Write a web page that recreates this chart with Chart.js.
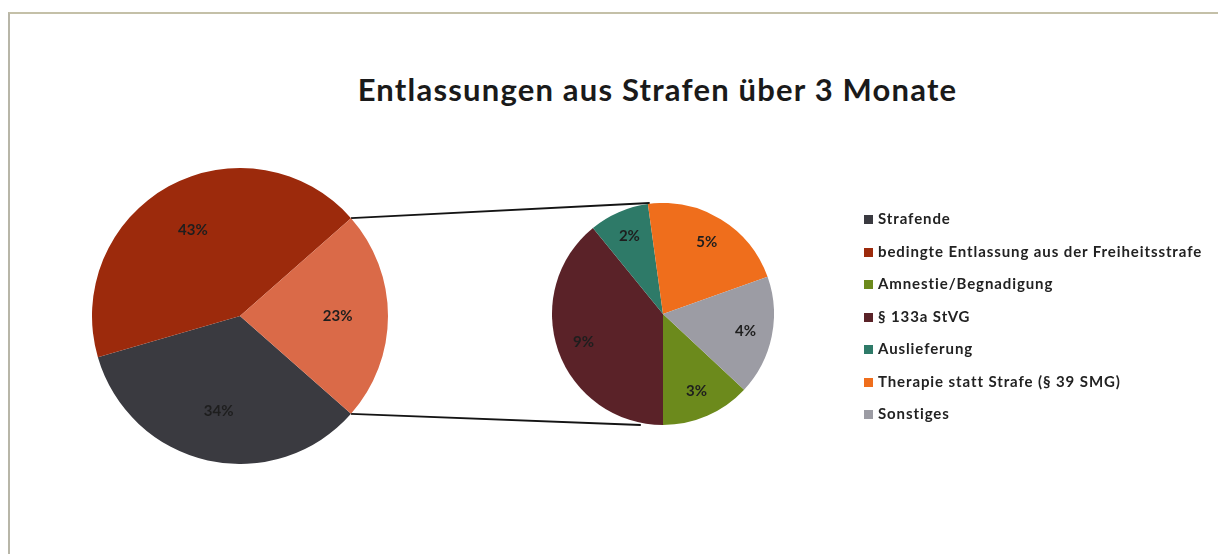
<!DOCTYPE html>
<html lang="de">
<head>
<meta charset="UTF-8">
<title>Entlassungen aus Strafen über 3 Monate</title>
<style>
  body { margin: 0; background: #fff; font-family: Lato, "Open Sans", sans-serif; }
  #frame {
    position: absolute; left: 8px; top: 12px; width: 1212px; height: 545px;
    border-top: 2px solid #c4c0a8; border-left: 2px solid #b8b6a8;
  }
  #title {
    position: absolute; left: 0; width: 1315px; top: 74px; text-align: center;
    font-weight: bold; font-size: 31px; line-height: 31px; letter-spacing: 1.2px; color: #1a1a1a;
  }
  #lines { position: absolute; left: 0; top: 0; }
  .pie { position: absolute; }
  #mainWrap { left: 92px; top: 168px; width: 296px; height: 296px; }
  #subWrap { left: 552px; top: 203px; width: 222px; height: 222px; }
  #legend { position: absolute; left: 864px; top: 208px; font-size: 15px; font-weight: bold; letter-spacing: 0.9px; color: #222; }
  #legend div { height: 32.5px; line-height: 20px; white-space: nowrap; }
  #legend span { display: inline-block; width: 9px; height: 9px; margin-right: 5px; vertical-align: 0px; }
</style>
</head>
<body>
<div id="frame"></div>
<div id="title">Entlassungen aus Strafen über 3 Monate</div>
<canvas id="lines" width="1218" height="554"></canvas>
<div class="pie" id="mainWrap"><canvas id="mainPie"></canvas></div>
<div class="pie" id="subWrap"><canvas id="subPie"></canvas></div>
<div id="legend"></div>

<script src="https://cdn.jsdelivr.net/npm/chart.js"></script>
<script>
// Hauptkreis
const mainLabels = ['Strafende', 'bedingte Entlassung aus der Freiheitsstrafe'];
const mainValues = [34, 43];
const mainColors = ['#3a3a40', '#9c2a0c'];
const otherColor = '#da6a48';

// Zweiter Kreis (Rest)
const subLabels = ['Amnestie/Begnadigung', '§ 133a StVG', 'Auslieferung', 'Therapie statt Strafe (§ 39 SMG)', 'Sonstiges'];
const subValues = [3, 9, 2, 5, 4];
const subColors = ['#6c8a1c', '#5a2228', '#2e7a68', '#ef6e1c', '#9c9ca4'];

const subSum = subValues.reduce((a, b) => a + b, 0);
const total = mainValues.reduce((a, b) => a + b, 0) + subSum;

// Prozent-Beschriftung in den Segmenten
function pctLabels(radiusFactor) {
  return {
    id: 'pctLabels',
    afterDatasetsDraw(chart) {
      const ctx = chart.ctx;
      const ds = chart.data.datasets[0];
      ctx.save();
      ctx.font = 'bold 15px Lato, "Open Sans", sans-serif';
      ctx.fillStyle = '#1e1e1e';
      ctx.textAlign = 'center';
      ctx.textBaseline = 'middle';
      chart.getDatasetMeta(0).data.forEach((arc, i) => {
        const p = arc.getProps(['x', 'y', 'startAngle', 'endAngle', 'outerRadius'], true);
        const mid = (p.startAngle + p.endAngle) / 2;
        const r = p.outerRadius * radiusFactor;
        const pct = Math.round(ds.data[i] / total * 100) + '%';
        ctx.fillText(pct, p.x + Math.cos(mid) * r, p.y + Math.sin(mid) * r);
      });
      ctx.restore();
    }
  };
}

const commonOpts = {
  responsive: true,
  maintainAspectRatio: false,
  animation: false,
  layout: { padding: 0 },
  plugins: { legend: { display: false }, tooltip: { enabled: false } }
};

const mainChart = new Chart(document.getElementById('mainPie'), {
  type: 'pie',
  data: {
    labels: [...mainLabels, 'Andere'],
    datasets: [{
      data: [...mainValues, subSum],
      backgroundColor: [...mainColors, otherColor],
      borderWidth: 0
    }]
  },
  options: { ...commonOpts, rotation: 90 + subSum / total * 180 },
  plugins: [pctLabels(0.66)]
});

const subChart = new Chart(document.getElementById('subPie'), {
  type: 'pie',
  data: {
    labels: subLabels,
    datasets: [{
      data: subValues,
      backgroundColor: subColors,
      borderWidth: 0
    }]
  },
  options: { ...commonOpts, rotation: 180 - subValues[0] / subSum * 360 },
  plugins: [pctLabels(0.76)]
});

// Verbindungslinien zwischen den Kreisen
function drawConnectors() {
  const base = document.getElementById('lines').getBoundingClientRect();
  const mRect = mainChart.canvas.getBoundingClientRect();
  const sRect = subChart.canvas.getBoundingClientRect();
  const o = mainChart.getDatasetMeta(0).data[2].getProps(['x', 'y', 'startAngle', 'endAngle', 'outerRadius'], true);
  const s = subChart.getDatasetMeta(0).data[0].getProps(['x', 'y', 'outerRadius'], true);
  const ax = mRect.left - base.left, ay = mRect.top - base.top;
  const bx = sRect.left - base.left, by = sRect.top - base.top;
  const p1 = [ax + o.x + Math.cos(o.startAngle) * o.outerRadius, ay + o.y + Math.sin(o.startAngle) * o.outerRadius];
  const p2 = [ax + o.x + Math.cos(o.endAngle) * o.outerRadius, ay + o.y + Math.sin(o.endAngle) * o.outerRadius];
  const q1 = [bx + s.x - s.outerRadius * 0.12, by + s.y - s.outerRadius];
  const q2 = [bx + s.x - s.outerRadius * 0.2, by + s.y + s.outerRadius];
  const ctx = document.getElementById('lines').getContext('2d');
  ctx.strokeStyle = '#141414';
  ctx.lineWidth = 1.8;
  ctx.beginPath();
  ctx.moveTo(p1[0], p1[1]); ctx.lineTo(q1[0], q1[1]);
  ctx.moveTo(p2[0], p2[1]); ctx.lineTo(q2[0], q2[1]);
  ctx.stroke();
}
drawConnectors();

// Legende
const legend = document.getElementById('legend');
[...mainLabels, ...subLabels].forEach((label, i) => {
  const color = [...mainColors, ...subColors][i];
  const row = document.createElement('div');
  row.innerHTML = '<span style="background:' + color + '"></span>' + label;
  legend.appendChild(row);
});
</script>
</body>
</html>
